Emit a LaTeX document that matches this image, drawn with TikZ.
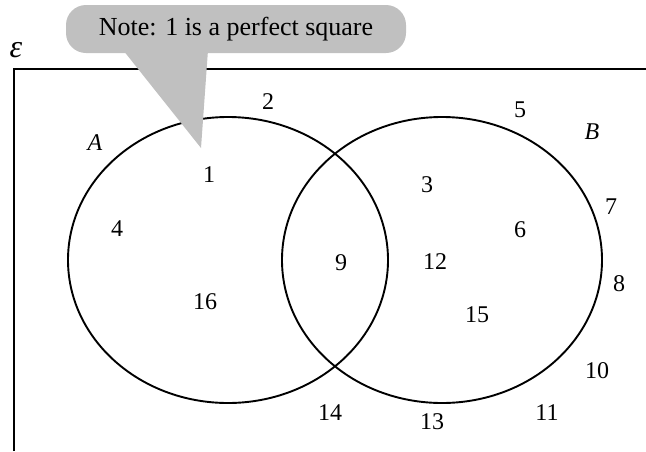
\documentclass[tikz,border=0pt]{standalone}
\usepackage{fontspec}
\setmainfont{Liberation Serif}
\usetikzlibrary{shapes.geometric, positioning}
\definecolor{notegray}{RGB}{192, 192, 192}

\begin{document}
\begin{tikzpicture}[x=1pt, y=-1pt,
            set/.style={draw, ellipse, line width=1.9pt, minimum width=320pt, minimum height=286pt, inner sep=0pt, outer sep=0pt},
            num/.style={font=\fontsize{24}{28}\selectfont, inner sep=0pt},
            lbl/.style={font=\fontsize{24}{28}\selectfont\itshape, inner sep=0pt},
            note/.style={fill=notegray, rounded corners=20pt, minimum width=340pt, minimum height=48pt, font=\fontsize{26}{30}\selectfont}
        ]
            \useasboundingbox (0,0) rectangle (646,451);
            % universal set
            \draw[line width=1.9pt] (14,451) |- (646,69);
            \node[lbl, font=\fontsize{32}{36}\selectfont\itshape] (eps) at (16,50) {ε};

            % the two sets
            \node[set] (A) at (228,260) {};
            \node[set] (B) at (442,260) {};
            \node[lbl] (nameA) at (95,143) {A};
            \node[lbl] (nameB) at (592,132) {B};

            % elements
            \node[num] (n1) at (209,175) {1};
            \node[num] (n2) at (268,102) {2};
            \node[num] (n3) at (427,185) {3};
            \node[num] (n4) at (117,229) {4};
            \node[num] (n5) at (520,110) {5};
            \node[num] (n6) at (520,230) {6};
            \node[num] (n7) at (611,207) {7};
            \node[num] (n8) at (619,284) {8};
            \node[num] (n9) at (341,263) {9};
            \node[num] (n10) at (597,371) {10};
            \node[num] (n11) at (547,413) {11};
            \node[num] (n12) at (435,262) {12};
            \node[num] (n13) at (432,422) {13};
            \node[num] (n14) at (330,413) {14};
            \node[num] (n15) at (477,315) {15};
            \node[num] (n16) at (205,302) {16};

            % callout
            \coordinate (tip) at (201,148);
            \node[note] (note) at (236,29) {Note: 1 is a perfect square};
            \fill[notegray] (123,50) -- (tip) -- (208,50) -- cycle;
        \end{tikzpicture}
\end{document}
